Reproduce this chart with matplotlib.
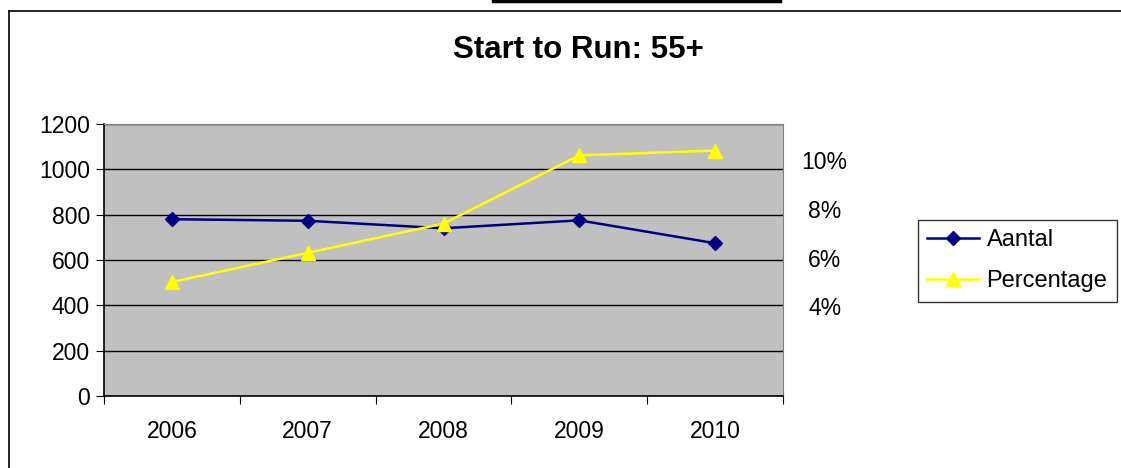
import matplotlib
matplotlib.use("Agg")
import matplotlib.pyplot as plt
from matplotlib.lines import Line2D

plt.rcParams['font.family'] = ['Liberation Sans', 'DejaVu Sans']

years = ['2006', '2007', '2008', '2009', '2010']
aantal = [780, 773, 740, 775, 674]
percentage = [5.0, 6.2, 7.4, 10.2, 10.4]  # in %
left_ticks = [0, 200, 400, 600, 800, 1000, 1200]
right_ticks = [4, 6, 8, 10]

W, H = 1121, 468
fig = plt.figure(figsize=(W / 100, H / 100), dpi=100)

# plot area in pixels: x 104..783, y 124..396
ax = fig.add_axes([104 / W, 1 - 396 / H, (783 - 104) / W, (396 - 124) / H])
ax.set_facecolor('#C0C0C0')
x = list(range(len(years)))

l1, = ax.plot(x, aantal, color='#000080', lw=1.8, marker='D', ms=7.5,
              label='Aantal', zorder=3)
ax.set_xlim(-0.5, len(years) - 0.5)
ax.set_ylim(0, 1200)
ax.set_yticks(left_ticks)
ax.yaxis.grid(True, color='black', lw=1)
ax.set_axisbelow(True)
ax.set_xticks([i - 0.5 for i in range(len(years) + 1)], minor=False)
ax.set_xticklabels([])
ax.set_xticks(x, minor=True)
ax.set_xticklabels(years, minor=True)
ax.tick_params(axis='x', which='major', length=6, direction='out', color='black')
ax.tick_params(axis='x', which='minor', length=0, pad=17, labelsize=16.5)
ax.tick_params(axis='y', length=6, direction='out', labelsize=16.5, pad=4)
for s in ['left', 'bottom']:
    ax.spines[s].set_color('black')
    ax.spines[s].set_linewidth(1.2)
ax.spines['top'].set_color('#808080')
ax.spines['right'].set_color('#808080')

ax2 = ax.twinx()
l2, = ax2.plot(x, percentage, color='#FFFF00', lw=1.8, marker='^', ms=10,
               label='Percentage', zorder=3)
ax2.set_ylim(0.32, 11.49)
ax2.set_yticks(right_ticks)
ax2.set_yticklabels([f'{v}%' for v in right_ticks])
ax2.tick_params(axis='y', length=0, pad=30, labelsize=16.5)
for lab in ax2.get_yticklabels():
    lab.set_horizontalalignment('center')
for s in ax2.spines.values():
    s.set_visible(False)

fig.text(578 / W, 1 - 50 / H, 'Start to Run: 55+', ha='center', va='center',
         fontsize=22.5, fontweight='bold')

leg = fig.legend(handles=[l1, l2], loc='upper left',
                 bbox_to_anchor=(918 / W, 1 - 220 / H),
                 frameon=True, fancybox=False, fontsize=17,
                 handlelength=2.2, handletextpad=0.3, borderpad=0.4,
                 borderaxespad=0, labelspacing=0.8)
leg.get_frame().set_edgecolor('black')
leg.get_frame().set_linewidth(1)

# outer chart border (left and top visible) and the black bar at the top
fig.add_artist(Line2D([8.5 / W, 8.5 / W], [0, 1 - 10.5 / H], color='black', lw=1.2))
fig.add_artist(Line2D([8.5 / W, 1], [1 - 10.5 / H, 1 - 10.5 / H], color='black', lw=1.2))
fig.add_artist(Line2D([493 / W, 780 / W], [1 - 1 / H, 1 - 1 / H], color='black', lw=2.5))

fig.savefig('out.png', dpi=100)
